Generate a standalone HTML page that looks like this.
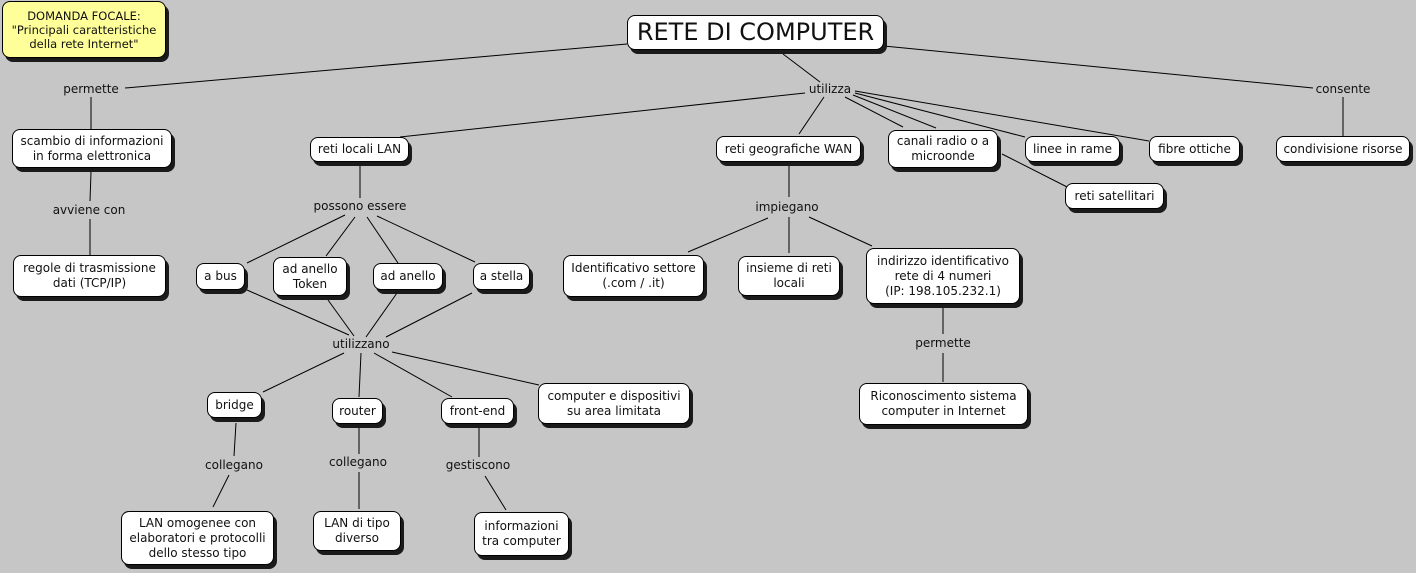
<!DOCTYPE html>
<html><head><meta charset="utf-8"><style>
body{margin:0;width:1416px;height:573px;background:#c6c6c6;position:relative;overflow:hidden;font-family:"DejaVu Sans","Liberation Sans",sans-serif;font-size:12px;color:#111}
.b{position:absolute;box-sizing:border-box;background:#fff;border:1px solid #000;border-radius:8px;box-shadow:3px 4px 0 #1a1a1a;display:flex;align-items:center;justify-content:center;text-align:center;line-height:15px;white-space:nowrap}
.l{position:absolute;transform:translate(-50%,-50%);white-space:nowrap;line-height:14px;padding:0 2px}
svg{position:absolute;left:0;top:0}
</style></head><body>
<svg width="1416" height="573" stroke="#000" stroke-width="1">
<line x1="627" y1="44" x2="125" y2="88"/>
<line x1="91" y1="97" x2="91" y2="129"/>
<line x1="91" y1="172" x2="90" y2="201"/>
<line x1="90" y1="219" x2="90" y2="255"/>
<line x1="783" y1="54" x2="820" y2="82"/>
<line x1="805" y1="93" x2="400" y2="137"/>
<line x1="824" y1="97" x2="799" y2="134"/>
<line x1="845" y1="97" x2="903" y2="127"/>
<line x1="853" y1="95" x2="936" y2="128"/>
<line x1="855" y1="93" x2="1025" y2="137"/>
<line x1="855" y1="91" x2="1149" y2="141"/>
<line x1="884" y1="46" x2="1313" y2="88"/>
<line x1="1343" y1="97" x2="1343" y2="136"/>
<line x1="1002" y1="154" x2="1075" y2="191"/>
<line x1="360" y1="162" x2="360" y2="198"/>
<line x1="345" y1="215" x2="247" y2="263"/>
<line x1="355" y1="217" x2="326" y2="256"/>
<line x1="367" y1="217" x2="398" y2="263"/>
<line x1="377" y1="216" x2="475" y2="262"/>
<line x1="247" y1="290" x2="349" y2="335"/>
<line x1="328" y1="300" x2="354" y2="336"/>
<line x1="397" y1="293" x2="366" y2="337"/>
<line x1="472" y1="293" x2="386" y2="337"/>
<line x1="344" y1="353" x2="263" y2="392"/>
<line x1="361" y1="353" x2="359" y2="397"/>
<line x1="374" y1="353" x2="452" y2="397"/>
<line x1="392" y1="352" x2="539" y2="385"/>
<line x1="236" y1="423" x2="234" y2="456"/>
<line x1="229" y1="475" x2="213" y2="507"/>
<line x1="359" y1="427" x2="359" y2="454"/>
<line x1="359" y1="472" x2="359" y2="509"/>
<line x1="479" y1="427" x2="479" y2="457"/>
<line x1="485" y1="476" x2="506" y2="510"/>
<line x1="789" y1="166" x2="789" y2="197"/>
<line x1="768" y1="218" x2="688" y2="252"/>
<line x1="789" y1="217" x2="789" y2="253"/>
<line x1="809" y1="217" x2="872" y2="246"/>
<line x1="943" y1="308" x2="943" y2="334"/>
<line x1="943" y1="353" x2="943" y2="382"/>
</svg>
<div class="b" style="left:2px;top:1px;width:164px;height:57px;background:#ffff99;font-size:11.5px;line-height:14px">DOMANDA FOCALE:<br>"Principali caratteristiche<br>della rete Internet"</div>
<div class="b" style="left:627px;top:15px;width:257px;height:35px;font-size:24px">RETE DI COMPUTER</div>
<div class="b" style="left:12px;top:129px;width:160px;height:39px">scambio di informazioni<br>in forma elettronica</div>
<div class="b" style="left:13px;top:255px;width:153px;height:42px">regole di trasmissione<br>dati (TCP/IP)</div>
<div class="b" style="left:310px;top:137px;width:99px;height:25px">reti locali LAN</div>
<div class="b" style="left:196px;top:263px;width:49px;height:27px">a bus</div>
<div class="b" style="left:273px;top:257px;width:74px;height:39px">ad anello<br>Token</div>
<div class="b" style="left:373px;top:263px;width:70px;height:27px">ad anello</div>
<div class="b" style="left:473px;top:263px;width:57px;height:27px">a stella</div>
<div class="b" style="left:716px;top:136px;width:145px;height:26px">reti geografiche WAN</div>
<div class="b" style="left:888px;top:130px;width:110px;height:38px">canali radio o a<br>microonde</div>
<div class="b" style="left:1025px;top:136px;width:95px;height:26px">linee in rame</div>
<div class="b" style="left:1149px;top:136px;width:91px;height:26px">fibre ottiche</div>
<div class="b" style="left:1276px;top:136px;width:134px;height:26px">condivisione risorse</div>
<div class="b" style="left:1065px;top:183px;width:99px;height:26px">reti satellitari</div>
<div class="b" style="left:563px;top:255px;width:141px;height:42px">Identificativo settore<br>(.com / .it)</div>
<div class="b" style="left:738px;top:256px;width:102px;height:40px">insieme di reti<br>locali</div>
<div class="b" style="left:866px;top:248px;width:154px;height:56px">indirizzo identificativo<br>rete di 4 numeri<br>(IP: 198.105.232.1)</div>
<div class="b" style="left:859px;top:383px;width:169px;height:42px">Riconoscimento sistema<br>computer in Internet</div>
<div class="b" style="left:207px;top:392px;width:55px;height:26px">bridge</div>
<div class="b" style="left:332px;top:398px;width:51px;height:26px">router</div>
<div class="b" style="left:441px;top:398px;width:73px;height:26px">front-end</div>
<div class="b" style="left:538px;top:383px;width:152px;height:41px">computer e dispositivi<br>su area limitata</div>
<div class="b" style="left:121px;top:511px;width:153px;height:54px">LAN omogenee con<br>elaboratori e protocolli<br>dello stesso tipo</div>
<div class="b" style="left:313px;top:511px;width:88px;height:40px">LAN di tipo<br>diverso</div>
<div class="b" style="left:474px;top:512px;width:95px;height:44px">informazioni<br>tra computer</div>
<div class="l" style="left:91px;top:89px">permette</div>
<div class="l" style="left:830px;top:89px">utilizza</div>
<div class="l" style="left:1343px;top:89px">consente</div>
<div class="l" style="left:89px;top:210px">avviene con</div>
<div class="l" style="left:360px;top:206px">possono essere</div>
<div class="l" style="left:787px;top:207px">impiegano</div>
<div class="l" style="left:361px;top:344px">utilizzano</div>
<div class="l" style="left:943px;top:343px">permette</div>
<div class="l" style="left:234px;top:465px">collegano</div>
<div class="l" style="left:358px;top:462px">collegano</div>
<div class="l" style="left:478px;top:465px">gestiscono</div>
</body></html>
